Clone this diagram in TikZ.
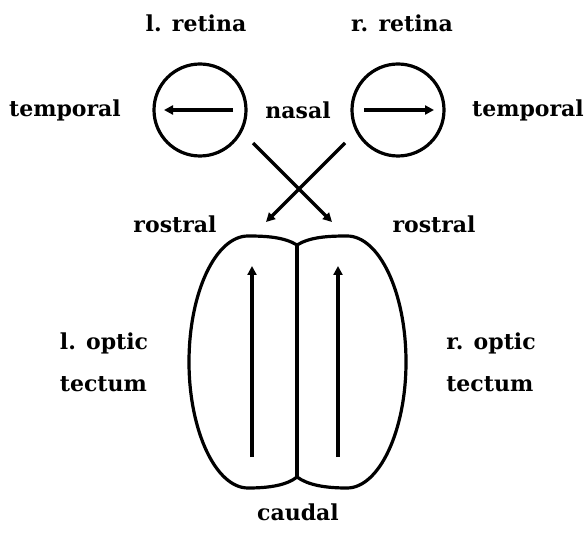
\documentclass[tikz,border=0pt]{standalone}
\usepackage{fontspec}
\setmainfont{DejaVu Serif}
\usetikzlibrary{arrows.meta}
\begin{document}
\begin{tikzpicture}[x=0.5pt, y=0.5pt, line width=1.6pt,
    lbl/.style={font=\fontsize{11}{21}\selectfont\bfseries, inner sep=0pt},
    retina/.style={draw, circle, minimum size=46pt, inner sep=0pt},
    tip/.style={-{Triangle[length=4.5pt,width=4.5pt]}}]
  \useasboundingbox (0,0) rectangle (587,-533);
  % retinae
  \node[retina] (lret) at (200,-110) {};
  \node[retina] (rret) at (398,-110) {};
  \node[lbl] (lrettxt) at (196,-23) {l. retina};
  \node[lbl] (rrettxt) at (402,-23) {r. retina};
  \node[lbl] (ltemp) at (65,-110) {temporal};
  \node[lbl] (nasal) at (298,-110) {nasal};
  \node[lbl] (rtemp) at (528,-110) {temporal};
  \coordinate (la1) at (233,-110);
  \coordinate (la2) at (164,-110);
  \coordinate (ra1) at (364,-110);
  \coordinate (ra2) at (434,-110);
  \draw[tip] (la1) -- (la2);
  \draw[tip] (ra1) -- (ra2);
  % crossing
  \coordinate (c1s) at (253,-143);
  \coordinate (c1e) at (332,-222);
  \coordinate (c2s) at (345,-143);
  \coordinate (c2e) at (266,-222);
  \draw[tip] (c1s) -- (c1e);
  \draw[tip] (c2s) -- (c2e);
  \node[lbl] (lrost) at (175,-224) {rostral};
  \node[lbl] (rrost) at (434,-224) {rostral};
  % tectum
  \coordinate (tt) at (297,-245);
  \coordinate (tb) at (297,-477);
  \draw (tt) .. controls (284,-237) and (266,-236) .. (248,-236)
    .. controls (216,-236) and (189,-292) .. (189,-362)
    .. controls (189,-431) and (216,-488) .. (248,-488)
    .. controls (270,-488) and (287,-485) .. (tb);
  \draw (tt) .. controls (310,-237) and (328,-236) .. (347,-236)
    .. controls (379,-236) and (406,-292) .. (406,-362)
    .. controls (406,-431) and (379,-488) .. (347,-488)
    .. controls (325,-488) and (308,-485) .. (tb);
  \draw (tt) -- (tb);
  \coordinate (lt1) at (252,-457);
  \coordinate (lt2) at (252,-266);
  \coordinate (rt1) at (338,-457);
  \coordinate (rt2) at (338,-266);
  \draw[tip] (lt1) -- (lt2);
  \draw[tip] (rt1) -- (rt2);
  \node[lbl, align=left] (lopt) at (104,-362) {l. optic\\tectum};
  \node[lbl, align=left] (ropt) at (491,-362) {r. optic\\tectum};
  \node[lbl] (caudal) at (298,-512) {caudal};
\end{tikzpicture}
\end{document}
